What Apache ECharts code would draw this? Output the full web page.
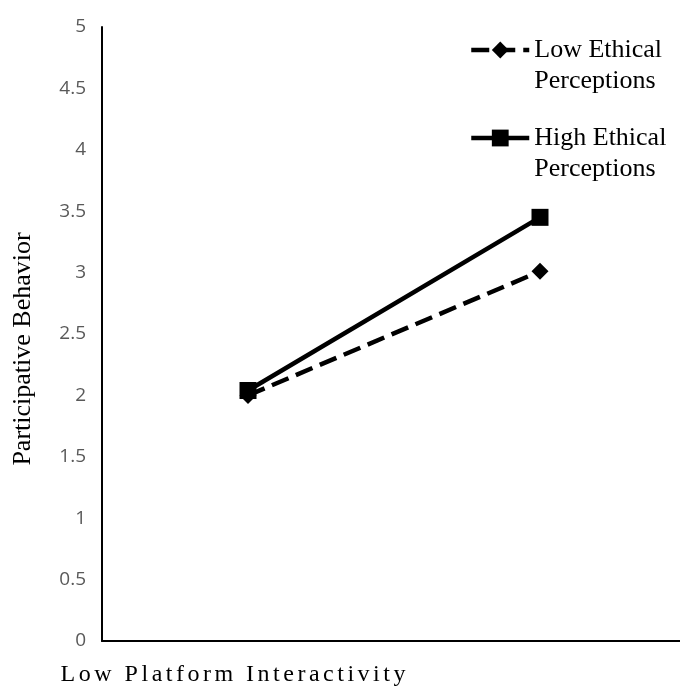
<!DOCTYPE html>
<html>
<head>
<meta charset="utf-8">
<script src="https://cdn.jsdelivr.net/npm/echarts@6/dist/echarts.min.js"></script>
<style>
html,body{margin:0;padding:0;background:#fff;}
#chart{width:680px;height:688px;}
</style>
</head>
<body>
<div id="chart"></div>
<script>
const categories = ['Low Platform Interactivity', 'High Platform Interactivity'];
const lowEthical = [2.0, 3.01];
const highEthical = [2.04, 3.45];
const seriesNames = ['Low Ethical\nPerceptions', 'High Ethical\nPerceptions'];
const yTicks = { min: 0, max: 5, interval: 0.5 };
const yName = 'Participative Behavior';

function spaced(s) {
  return s.split('').map(function (c) { return c === '{' || c === '}' ? '' : c; }).join('{s| }');
}

const chart = echarts.init(document.getElementById('chart'), null, { renderer: 'canvas' });
chart.setOption({
  backgroundColor: '#fff',
  animation: false,
  grid: { left: 102, width: 584, top: 27, bottom: 47, containLabel: false, outerBoundsMode: 'none' },
  legend: {
    orient: 'vertical',
    left: 469,
    top: 3.5,
    padding: 0,
    itemGap: -5,
    itemWidth: 58,
    itemHeight: 21,
    data: seriesNames,
    lineStyle: { width: 4.5 },
    formatter: function (name) { return '\n' + name; },
    textStyle: {
      fontFamily: 'Liberation Serif',
      fontSize: 26,
      lineHeight: 31,
      color: '#000'
    }
  },
  xAxis: {
    type: 'category',
    data: categories,
    boundaryGap: true,
    axisLine: { lineStyle: { color: '#000', width: 2 } },
    axisTick: { show: false },
    splitLine: { show: false },
    axisLabel: {
      interval: 0,
      margin: 22,
      fontFamily: 'Liberation Serif',
      fontSize: 24,
      color: '#000',
      padding: [0, 30, 0, 0],
      rich: { s: { fontFamily: 'Liberation Serif', fontSize: 14 } },
      formatter: function (v, i) { return i === 0 ? spaced(v) : ''; }
    }
  },
  yAxis: {
    type: 'value',
    min: yTicks.min,
    max: yTicks.max,
    interval: yTicks.interval,
    name: yName,
    nameLocation: 'middle',
    nameGap: 66,
    nameTextStyle: { fontFamily: 'Liberation Serif', fontSize: 26, color: '#000', padding: [0, 30, 0, 0] },
    axisLine: { show: true, lineStyle: { color: '#000', width: 2 } },
    axisTick: { show: false },
    splitLine: { show: false },
    axisLabel: { margin: 16, fontFamily: 'Open Sans', fontSize: 19, color: '#595959' }
  },
  series: [
    {
      name: seriesNames[0],
      type: 'line',
      data: lowEthical,
      symbol: 'diamond',
      symbolSize: 17,
      color: '#000',
      itemStyle: { color: '#000' },
      lineStyle: { color: '#000', width: 4.5, type: [18, 8] },
      z: 2
    },
    {
      name: seriesNames[1],
      type: 'line',
      data: highEthical,
      symbol: 'rect',
      symbolSize: 17,
      color: '#000',
      itemStyle: { color: '#000' },
      lineStyle: { color: '#000', width: 4.5, type: 'solid' },
      z: 3
    }
  ]
});
</script>
</body>
</html>
